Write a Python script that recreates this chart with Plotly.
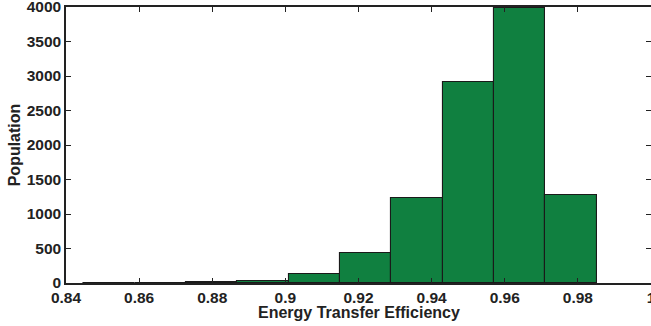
import plotly.graph_objects as go

# Histogram data (10 bins, MATLAB-style hist)
bin_start = 0.8447
bin_width = 0.01404
counts = [2, 4, 15, 30, 135, 440, 1225, 2910, 3980, 1275]
centers = [bin_start + bin_width * (i + 0.5) for i in range(len(counts))]

x_ticks = [0.84, 0.86, 0.88, 0.9, 0.92, 0.94, 0.96, 0.98, 1.0]
x_tick_labels = ["0.84", "0.86", "0.88", "0.9", "0.92", "0.94", "0.96", "0.98", "1"]
y_ticks = [0, 500, 1000, 1500, 2000, 2500, 3000, 3500, 4000]
y_tick_labels = [str(v) for v in y_ticks]

FONT = "Liberation Sans"
AX = "#222222"

fig = go.Figure(
    go.Bar(
        x=centers,
        y=counts,
        width=bin_width,
        marker=dict(color="#108040", line=dict(color="#1a1a1a", width=1.1)),
    )
)

fig.update_layout(
    width=651,
    height=326,
    margin=dict(l=66, r=0, t=7, b=43),
    paper_bgcolor="white",
    plot_bgcolor="white",
    showlegend=False,
    bargap=0,
    font=dict(family=FONT, size=15.5, color="#222222", weight="bold"),
    annotations=[
        dict(
            text="Energy Transfer Efficiency",
            xref="paper", yref="paper",
            x=0.5, y=0, yshift=-29,
            xanchor="center", yanchor="middle",
            showarrow=False,
            font=dict(family=FONT, size=16, color="#222222", weight="bold"),
        )
    ],
)

fig.update_xaxes(
    range=[0.84 - 1e-6, 1.0 + 1e-6],
    automargin=False,
    tickmode="array",
    tickvals=x_ticks,
    ticktext=x_tick_labels,
    ticks="inside",
    ticklen=5,
    tickcolor=AX,
    showline=True,
    linecolor=AX,
    linewidth=1.5,
    mirror="ticks",
    showgrid=False,
    zeroline=False,
    ticklabelstandoff=0,
    ticklabeloverflow="allow",
    tickfont=dict(family=FONT, size=15.5, weight="bold"),
)

fig.update_yaxes(
    range=[-0.01, 4000.01],
    automargin=False,
    tickmode="array",
    tickvals=y_ticks,
    ticktext=y_tick_labels,
    ticks="inside",
    ticklen=5,
    tickcolor=AX,
    showline=True,
    linecolor=AX,
    linewidth=1.5,
    mirror="ticks",
    showgrid=False,
    zeroline=False,
    ticklabeloverflow="allow",
    tickfont=dict(family=FONT, size=15.5, weight="bold"),
    title=dict(text="Population", font=dict(family=FONT, size=16, weight="bold"), standoff=2),
)

fig.write_html("out.html")
